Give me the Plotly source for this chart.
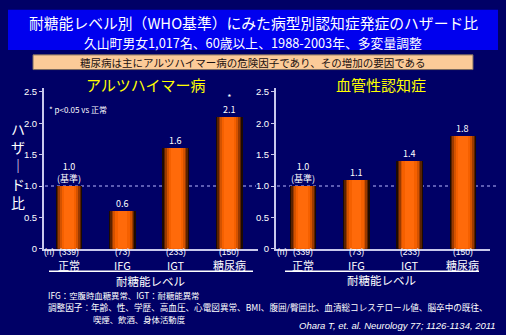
import plotly.graph_objects as go

W, H = 506, 335

categories = ["正常", "IFG", "IGT", "糖尿病"]
n_labels = ["(339)", "(73)", "(233)", "(150)"]
alz_values = [1.0, 0.6, 1.6, 2.1]
alz_labels = ["1.0<br>(基準)", "0.6", "1.6", "*<br>2.1"]
vas_values = [1.0, 1.1, 1.4, 1.8]
vas_labels = ["1.0<br>(基準)", "1.1", "1.4", "1.8"]
y_ticks = [0, 0.5, 1.0, 1.5, 2.0, 2.5]
y_ticktext = ["0", "0.5", "1.0", "1.5", "2.0", "2.5"]

JP = "Noto Sans CJK JP"
BG = "#000066"


def px(x):
    return x / W


def py(y):
    return 1 - y / H


fig = go.Figure()

# cylinder-like bars via overlaid layers
layers = [(0.50, "#1e0a00"), (0.45, "#5a2200"), (0.40, "#9a3a00"),
          (0.34, "#d45200"), (0.27, "#f56000"), (0.18, "#ff6a0a")]
xs = list(range(len(categories)))
for (xa, ya, vals) in [("x", "y", alz_values), ("x2", "y2", vas_values)]:
    for w, c in layers:
        fig.add_trace(go.Bar(x=xs, y=vals, width=w, marker=dict(color=c, line=dict(width=0)),
                             xaxis=xa, yaxis=ya, showlegend=False, hoverinfo="skip"))

y0, ytop = 252, 88
ydom = [py(y0), py(ytop)]
yrange = [0, 2.56]
axcol = "#c8c8ec"
tickfont = dict(size=9.5, color="white", family="Liberation Sans")

fig.update_layout(
    width=W, height=H, margin=dict(l=0, r=0, t=0, b=0),
    paper_bgcolor=BG, plot_bgcolor=BG, barmode="overlay", bargap=0,
    font=dict(family=JP, color="white"),
    xaxis=dict(domain=[px(44), px(258)], range=[-0.47, 3.54], showticklabels=False,
               showgrid=False, zeroline=False, showline=True, linecolor=axcol, linewidth=2,
               anchor="y"),
    yaxis=dict(domain=ydom, range=yrange, tickvals=y_ticks, ticktext=y_ticktext,
               showgrid=False, zeroline=False, showline=True, linecolor=axcol, linewidth=2,
               ticks="outside", ticklen=3, tickcolor=axcol, tickfont=tickfont,
               anchor="x"),
    xaxis2=dict(domain=[px(276), px(490)], range=[-0.51, 3.51], showticklabels=False,
                showgrid=False, zeroline=False, showline=True, linecolor=axcol, linewidth=2,
                anchor="y2"),
    yaxis2=dict(domain=ydom, range=yrange, tickvals=y_ticks, ticktext=y_ticktext,
                showgrid=False, zeroline=False, showline=True, linecolor=axcol, linewidth=2,
                ticks="outside", ticklen=3, tickcolor=axcol, tickfont=tickfont,
                anchor="x2"),
)

shapes = []
# title box
shapes.append(dict(type="rect", xref="paper", yref="paper", x0=px(8), x1=px(498), y0=py(49), y1=py(8),
                   fillcolor="#0000ee", line=dict(width=0), layer="below"))
# note box
shapes.append(dict(type="rect", xref="paper", yref="paper", x0=px(33), x1=px(473), y0=py(69), y1=py(54),
                   fillcolor="#fccb98", line=dict(width=1, color="#7a6a60"), layer="below"))
# reference dotted lines at 1.0
shapes.append(dict(type="line", xref="paper", yref="y", x0=px(45), x1=px(256), y0=1.0, y1=1.0,
                   line=dict(color="#b8b8ff", width=1, dash="dot"), layer="below"))
shapes.append(dict(type="line", xref="paper", yref="y2", x0=px(277), x1=px(496), y0=1.0, y1=1.0,
                   line=dict(color="#b8b8ff", width=1, dash="dot"), layer="below"))
# white separator lines
shapes.append(dict(type="line", xref="paper", yref="paper", x0=px(49), x1=px(253), y0=py(275), y1=py(275),
                   line=dict(color="white", width=1.5)))
shapes.append(dict(type="line", xref="paper", yref="paper", x0=px(285), x1=px(479), y0=py(275), y1=py(275),
                   line=dict(color="white", width=1.5)))
fig.update_layout(shapes=shapes)

ann = []


def A(text, x, y, size, color="white", xanchor="center", yanchor="middle", xref="paper", yref="paper", family=JP, **kw):
    ann.append(dict(text=text, x=x, y=y, xref=xref, yref=yref, showarrow=False, xanchor=xanchor,
                    yanchor=yanchor, font=dict(size=size, color=color, family=family), borderpad=0, **kw))


A("耐糖能レベル別（WHO基準）にみた病型別認知症発症のハザード比", px(253), py(20.5), 14.8)
A("久山町男女1,017名、60歳以上、1988-2003年、多変量調整", px(253), py(41), 12.8)
A("糖尿病は主にアルツハイマー病の危険因子であり、その増加の要因である", px(253), py(61.5), 10.5, color="#1a1010")
A("アルツハイマー病", px(146), py(84), 15, color="#ffff00")
A("血管性認知症", px(381), py(84), 15, color="#ffff00")
A("* p&lt;0.05 vs 正常", px(48), py(110), 8, xanchor="left")
A("ハ<br>ザ<br>｜<br>ド<br>比", px(17.5), py(167), 14, **{"align": "center"})

for i, cat in enumerate(categories):
    for xr, vals, labs in [("x", alz_values, alz_labels), ("x2", vas_values, vas_labels)]:
        yr = "y" if xr == "x" else "y2"
        A(labs[i], i, vals[i], 9, xref=xr, yref=yr, yanchor="bottom")
        A(n_labels[i], i, py(255.5), 8.5, xref=xr, family="Liberation Sans")
        A(cat, i, py(268.5), 11, xref=xr)

A("(n)", px(43), py(255.5), 8.5, xanchor="left", family="Liberation Sans")
A("(n)", px(276), py(255.5), 8.5, xanchor="left", family="Liberation Sans")
A("耐糖能レベル", px(150), py(284.5), 11.5)
A("耐糖能レベル", px(381), py(284), 11.5)

A("IFG：空腹時血糖異常、IGT：耐糖能異常", px(47), py(299.3), 8.4, xanchor="left")
A("調整因子：年齢、性、学歴、高血圧、心電図異常、BMI、腹囲/臀囲比、血清総コレステロール値、脳卒中の既往、",
  px(47), py(311.6), 8.6, xanchor="left")
A("喫煙、飲酒、身体活動度", px(92), py(324), 8.4, xanchor="left")
A("<i>Ohara T, et. al. Neurology 77; 1126-1134, 2011</i>", px(497), py(330), 9.5, xanchor="right",
  family="Liberation Sans")

fig.update_layout(annotations=ann)

fig.write_html("out.html")
